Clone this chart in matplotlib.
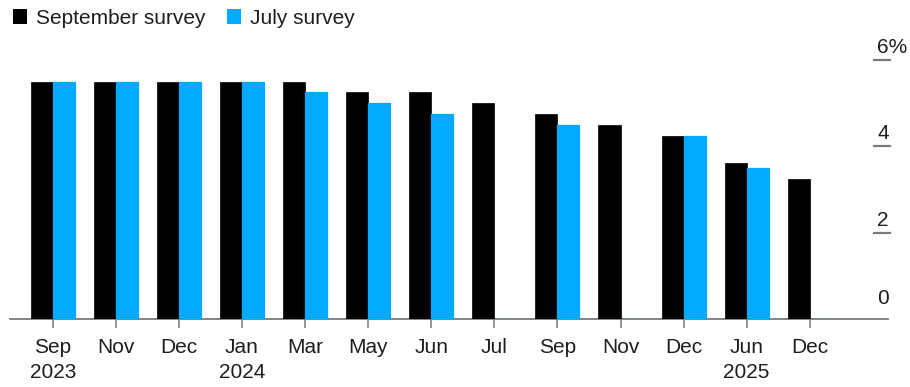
import matplotlib.pyplot as plt
import matplotlib.transforms as mtransforms
from matplotlib.patches import Patch

plt.rcParams['font.family'] = ['Liberation Sans', 'DejaVu Sans']

# Fed rate expectations by meeting, percent
meetings = ["Sep\n2023", "Nov", "Dec", "Jan\n2024", "Mar", "May", "Jun",
            "Jul", "Sep", "Nov", "Dec", "Jun\n2025", "Dec"]
september_survey = [5.5, 5.5, 5.5, 5.5, 5.5, 5.25, 5.25, 5.0, 4.75, 4.5,
                    4.25, 3.625, 3.25]
july_survey = [5.5, 5.5, 5.5, 5.5, 5.25, 5.0, 4.75, 0, 4.5, 0, 4.25, 3.5, 0]
y_ticks = [0, 2, 4, 6]
y_tick_labels = ["0", "2", "4", "6%"]

BLACK = "#000000"
BLUE = "#00aaff"
GREY = "#7a7a7a"
TEXT = "#1e1e1e"

W, H = 910, 387
fig = plt.figure(figsize=(W / 100, H / 100), dpi=100)
ax = fig.add_axes([10 / W, (H - 319) / H, 878 / W, 259 / H])

x = list(range(len(meetings)))
bw = 0.35
ax.bar([i - bw / 2 for i in x], september_survey, width=bw,
       color=BLACK, edgecolor=BLACK, linewidth=0.5, zorder=2)
ax.bar([i + bw / 2 for i in x], july_survey, width=bw,
       color=BLUE, edgecolor=BLUE, linewidth=0.9, zorder=2)

ax.set_xlim(-0.677, 13.24)
ax.set_ylim(0, 6)

for side in ["left", "right", "top"]:
    ax.spines[side].set_visible(False)
ax.spines["bottom"].set_color(GREY)
ax.spines["bottom"].set_linewidth(1.3)
ax.spines["bottom"].set_zorder(1)

ax.set_xticks(x)
ax.set_xticklabels(meetings, fontsize=15, color=TEXT, linespacing=1.4)
ax.tick_params(axis="x", length=6.5, width=1.1, color=GREY, pad=7)
ax.set_yticks([])

# right-hand value scale: short dashes with labels sitting above
trans = mtransforms.blended_transform_factory(ax.transAxes, ax.transData)
for val, lab in zip(y_ticks, y_tick_labels):
    if val != 0:
        ax.plot([0.984, 1.002], [val, val], color=GREY, lw=1.6,
                transform=trans, clip_on=False)
    off = 11 if val == 0 else 3
    ax.annotate(lab, xy=(0.9875, val), xycoords=trans,
                xytext=(0, off), textcoords="offset pixels",
                ha="left", va="bottom", fontsize=15, color=TEXT)

handles = [Patch(facecolor=BLACK, label="September survey"),
           Patch(facecolor=BLUE, label="July survey")]
fig.legend(handles=handles, loc="upper left",
           bbox_to_anchor=(-2 / W, 1 + 6 / H),
           ncol=2, frameon=False, fontsize=15, handlelength=0.7,
           handleheight=0.7, handletextpad=0.4, columnspacing=1.05,
           labelcolor=TEXT, borderaxespad=0.3)

fig.savefig("out.png", dpi=100)
